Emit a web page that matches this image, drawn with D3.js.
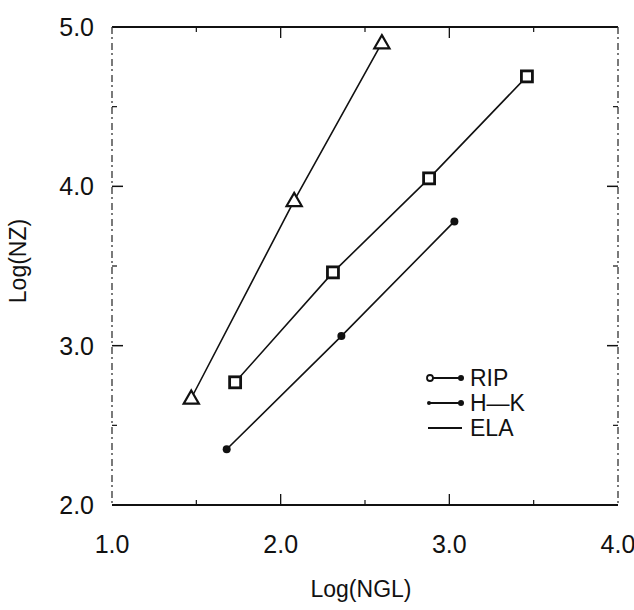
<!DOCTYPE html>
<html>
<head>
<meta charset="utf-8">
<script src="https://cdn.jsdelivr.net/npm/d3@7"></script>
<style>
  body { margin: 0; background: #fff; }
  text { font-family: "Liberation Sans", Arial, sans-serif; fill: #111; }
</style>
</head>
<body>
<svg id="chart" width="634" height="610"></svg>
<script>
// data
const ripX = [1.68, 2.36, 3.03];
const ripY = [2.35, 3.06, 3.78];
const hkX = [1.73, 2.31, 2.88, 3.46];
const hkY = [2.77, 3.46, 4.05, 4.69];
const elaX = [1.47, 2.08, 2.60];
const elaY = [2.67, 3.91, 4.90];
const legendLabels = ["RIP", "H\u2014K", "ELA"];
const xTickLabels = ["1.0", "2.0", "3.0", "4.0"];
const yTickLabels = ["2.0", "3.0", "4.0", "5.0"];

const margin = { top: 27, right: 16, bottom: 105, left: 112 };
const w = 634 - margin.left - margin.right;
const h = 610 - margin.top - margin.bottom;

const svg = d3.select('#chart');
const g = svg.append('g').attr('transform', `translate(${margin.left},${margin.top})`);

const xScale = d3.scaleLinear().domain([1, 4]).range([0, w]);
const yScale = d3.scaleLinear().domain([2, 5]).range([h, 0]);

// frame: top and bottom solid, sides broken like the scan
g.append('line').attr('x1', 0).attr('x2', w).attr('y1', 0).attr('y2', 0)
  .attr('stroke', '#111').attr('stroke-width', 2);
g.append('line').attr('x1', 0).attr('x2', w).attr('y1', h).attr('y2', h)
  .attr('stroke', '#111').attr('stroke-width', 2);
[0, w].forEach(x => {
  g.append('line').attr('x1', x).attr('x2', x).attr('y1', 0).attr('y2', h)
    .attr('stroke', '#333').attr('stroke-width', 1.3)
    .attr('stroke-dasharray', '7,3,2,4');
});

// inward ticks
const minor = [1.5, 2.5, 3.5];
const xMajor = [2, 3];
const yMajor = [3, 4];
const yMinor = [2.5, 3.5, 4.5];
xMajor.forEach(v => {
  g.append('line').attr('x1', xScale(v)).attr('x2', xScale(v)).attr('y1', h).attr('y2', h - 11).attr('stroke', '#111').attr('stroke-width', 1.3);
  g.append('line').attr('x1', xScale(v)).attr('x2', xScale(v)).attr('y1', 0).attr('y2', 11).attr('stroke', '#111').attr('stroke-width', 1.3);
});
minor.forEach(v => {
  g.append('line').attr('x1', xScale(v)).attr('x2', xScale(v)).attr('y1', h).attr('y2', h - 5).attr('stroke', '#111').attr('stroke-width', 1.2);
  g.append('line').attr('x1', xScale(v)).attr('x2', xScale(v)).attr('y1', 0).attr('y2', 5).attr('stroke', '#111').attr('stroke-width', 1.2);
});
yMajor.forEach(v => {
  g.append('line').attr('x1', 0).attr('x2', 11).attr('y1', yScale(v)).attr('y2', yScale(v)).attr('stroke', '#111').attr('stroke-width', 1.5);
  g.append('line').attr('x1', w).attr('x2', w - 11).attr('y1', yScale(v)).attr('y2', yScale(v)).attr('stroke', '#111').attr('stroke-width', 1.5);
});
yMinor.forEach(v => {
  g.append('line').attr('x1', 0).attr('x2', 5).attr('y1', yScale(v)).attr('y2', yScale(v)).attr('stroke', '#111').attr('stroke-width', 1.2);
  g.append('line').attr('x1', w).attr('x2', w - 5).attr('y1', yScale(v)).attr('y2', yScale(v)).attr('stroke', '#111').attr('stroke-width', 1.2);
});

// tick labels
g.selectAll('.xlab').data(xTickLabels).enter().append('text')
  .attr('x', d => xScale(+d)).attr('y', h + 48)
  .attr('text-anchor', 'middle').attr('font-size', 25).text(d => d);
g.selectAll('.ylab').data(yTickLabels).enter().append('text')
  .attr('x', -18).attr('y', d => yScale(+d) + 9)
  .attr('text-anchor', 'end').attr('font-size', 25).text(d => d);

// axis titles
g.append('text').attr('x', xScale(2.5) - 4).attr('y', h + 92)
  .attr('text-anchor', 'middle').attr('font-size', 23).text('Log(NGL)');
g.append('text').attr('transform', `translate(${-86},${yScale(3.5) - 5}) rotate(-90)`)
  .attr('text-anchor', 'middle').attr('font-size', 23).text('Log(NZ)');

const line = d3.line().x(d => xScale(d[0])).y(d => yScale(d[1]));
const rip = d3.zip(ripX, ripY);
const hk = d3.zip(hkX, hkY);
const ela = d3.zip(elaX, elaY);

[rip, hk, ela].forEach(s => {
  g.append('path').datum(s).attr('d', line)
    .attr('fill', 'none').attr('stroke', '#111').attr('stroke-width', 1.6);
});

// markers
g.selectAll('.rip').data(rip).enter().append('circle')
  .attr('cx', d => xScale(d[0])).attr('cy', d => yScale(d[1])).attr('r', 4)
  .attr('fill', '#111');
g.selectAll('.hk').data(hk).enter().append('rect')
  .attr('x', d => xScale(d[0]) - 5.5).attr('y', d => yScale(d[1]) - 5.5)
  .attr('width', 11).attr('height', 11)
  .attr('fill', '#fff').attr('stroke', '#111').attr('stroke-width', 2.8);
const tri = d3.symbol().type(d3.symbolTriangle).size(100);
g.selectAll('.ela').data(ela).enter().append('path')
  .attr('d', tri)
  .attr('transform', d => `translate(${xScale(d[0])},${yScale(d[1]) + 1})`)
  .attr('fill', '#fff').attr('stroke', '#111').attr('stroke-width', 2.2);

// legend
const lg = svg.append('g');
legendLabels.forEach((lab, i) => {
  const y = 378 + i * 25;
  lg.append('line').attr('x1', 428).attr('x2', 462).attr('y1', y).attr('y2', y)
    .attr('stroke', '#111').attr('stroke-width', 2);
  if (i === 0) {
    lg.append('circle').attr('cx', 430).attr('cy', y).attr('r', 3)
      .attr('fill', '#fff').attr('stroke', '#111').attr('stroke-width', 1.8);
  } else if (i === 1) {
    lg.append('circle').attr('cx', 429).attr('cy', y).attr('r', 2).attr('fill', '#111');
  }
  if (i < 2) {
    lg.append('circle').attr('cx', 461).attr('cy', y).attr('r', 3).attr('fill', '#111');
  }
  lg.append('text').attr('x', 470).attr('y', y + 8).attr('font-size', 23).text(lab);
});
</script>
</body>
</html>
